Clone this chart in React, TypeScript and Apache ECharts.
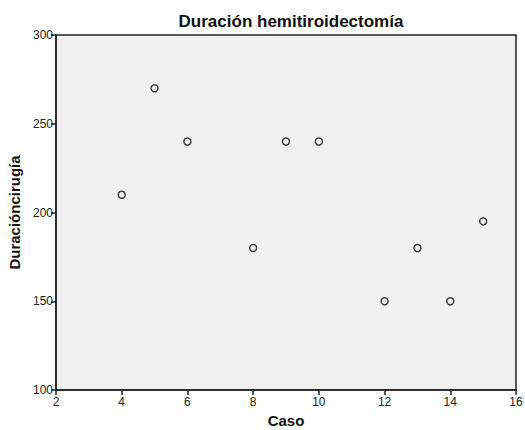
import React, { useEffect, useRef } from "react";
import * as echarts from "echarts";

const caso = [4, 5, 6, 8, 9, 10, 12, 13, 14, 15];
const duracion = [210, 270, 240, 180, 240, 240, 150, 180, 150, 195];
const titleText = "Duración hemitiroidectomía";
const xName = "Caso";
const yName = "Duracióncirugía";

export default function App() {
  const ref = useRef<HTMLDivElement>(null);
  useEffect(() => {
    if (!ref.current) return;
    const chart = echarts.init(ref.current, undefined, { renderer: "svg" });
    const font = "Arial, 'Liberation Sans', sans-serif";
    chart.setOption({
      animation: false,
      backgroundColor: "#ffffff",
      title: {
        text: titleText,
        left: 286,
        textAlign: "center",
        top: 8,
        textStyle: { fontFamily: font, fontSize: 17, fontWeight: "bold", color: "#111" },
      },
      grid: {
        left: 56,
        right: 9,
        top: 35,
        bottom: 40,
        outerBoundsMode: "none",
        containLabel: false,
        show: true,
        backgroundColor: "#f0f0f0",
        borderColor: "#222",
        borderWidth: 1.5,
      },
      xAxis: {
        type: "value",
        min: 2,
        max: 16,
        interval: 2,
        name: xName,
        nameLocation: "middle",
        nameGap: 22,
        nameTextStyle: { fontFamily: font, fontSize: 15, fontWeight: "bold", color: "#111" },
        axisLine: { show: true, onZero: false, lineStyle: { color: "#222", width: 1.5 } },
        axisTick: { show: true, length: 5, lineStyle: { color: "#222", width: 1.5 } },
        axisLabel: { fontFamily: font, fontSize: 12, color: "#222", margin: 6 },
        splitLine: { show: false },
      },
      yAxis: {
        type: "value",
        min: 100,
        max: 300,
        interval: 50,
        name: yName,
        nameLocation: "middle",
        nameGap: 31,
        nameTextStyle: { fontFamily: font, fontSize: 15, fontWeight: "bold", color: "#111" },
        axisLine: { show: true, onZero: false, lineStyle: { color: "#222", width: 1.5 } },
        axisTick: { show: true, length: 5, lineStyle: { color: "#222", width: 1.5 } },
        axisLabel: { fontFamily: font, fontSize: 12, color: "#222", margin: 3 },
        splitLine: { show: false },
      },
      series: [
        {
          type: "scatter",
          data: caso.map((c, i) => [c, duracion[i]]),
          symbol: "circle",
          symbolSize: 7,
          itemStyle: { color: "#f0f0f0", borderColor: "#111", borderWidth: 1.5 },
        },
      ],
    });
    return () => chart.dispose();
  }, []);
  return (
    <div
      ref={ref}
      style={{ position: "fixed", left: 0, top: 0, width: 525, height: 430 }}
    />
  );
}
